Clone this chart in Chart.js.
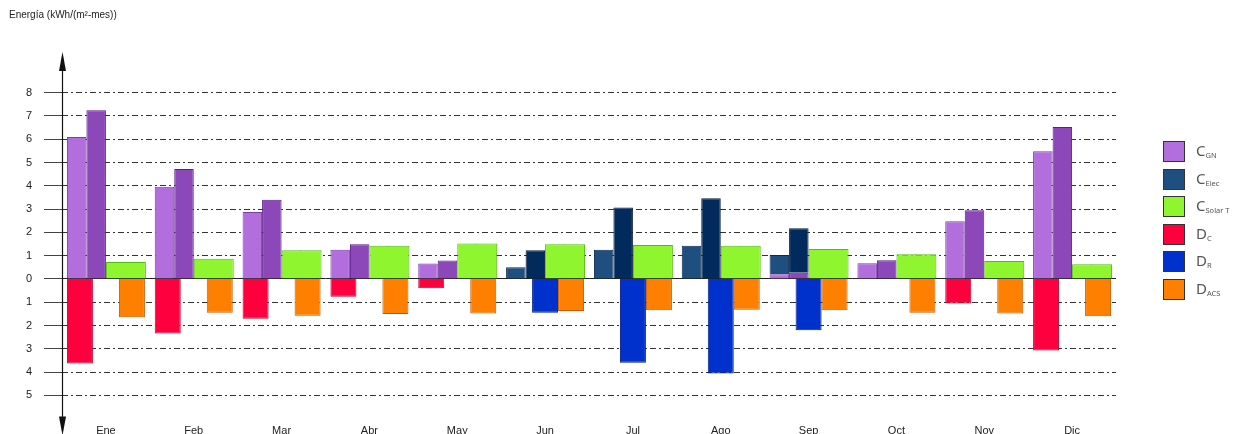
<!DOCTYPE html>
<html>
<head>
<meta charset="utf-8">
<script src="https://cdn.jsdelivr.net/npm/chart.js@4.4.0/dist/chart.umd.min.js"></script>
<style>
  html, body { margin: 0; padding: 0; background: #fff; overflow: hidden; }
  #wrap { position: relative; width: 1244px; height: 434px; }
  canvas { position: absolute; left: 0; top: 0; }
  #titulo { position: absolute; left: 9px; top: 9px; font: 10px "Liberation Sans", Arial, sans-serif; color: #222; }
  #leyenda { position: absolute; left: 1163px; top: 141px; font-family: "Noto Sans", sans-serif; color: #555; }
  .item { position: absolute; left: 0; height: 21px; white-space: nowrap; }
  .caja { position: absolute; left: 0; top: 0; width: 20px; height: 19px; border: 1px solid #333; }
  .txt { position: absolute; left: 33px; top: -1px; font-size: 15px; line-height: 21px; }
  .txt sub { font-size: 7.5px; vertical-align: -2px; }
</style>
</head>
<body>
<div id="wrap">
  <canvas id="consumo" width="1244" height="434"></canvas>
  <canvas id="demanda" width="1244" height="434"></canvas>
  <div id="titulo">Energía (kWh/(m²-mes))</div>
  <div id="leyenda"></div>
</div>
<script>
// meses
const meses = ["Ene", "Feb", "Mar", "Abr", "May", "Jun", "Jul", "Ago", "Sep", "Oct", "Nov", "Dic"];

// columna 1 (tonos claros)
const cGN    = [6.09, 3.96, 2.87, 1.25, 0.66, null, null, null, 0.20, 0.67, 2.48, 5.48];
const cElec  = [null, null, null, null, null, 0.50, 1.25, 1.42, 0.83, null, null, null];
// columna 2 (tonos oscuros)
const cGN2   = [7.24, 4.72, 3.40, 1.49, 0.79, null, null, null, 0.27, 0.80, 2.95, 6.52];
const cElec2 = [null, null, null, null, null, 1.23, 3.07, 3.47, 1.91, null, null, null];
// solar termica
const cSolarT = [0.73, 0.87, 1.23, 1.42, 1.52, 1.49, 1.46, 1.43, 1.28, 1.06, 0.77, 0.63];
// demandas (hacia abajo)
const dC   = [-3.63, -2.34, -1.71, -0.76, -0.40, null, null, null, null, null, -1.05, -3.07];
const dR   = [null, null, null, null, null, -1.45, -3.60, -4.06, -2.20, null, null, null];
const dACS = [-1.65, -1.45, -1.58, -1.51, -1.48, -1.38, -1.35, -1.32, -1.35, -1.45, -1.49, -1.60];

// eje y
const yTicks = [-5, -4, -3, -2, -1, 0, 1, 2, 3, 4, 5, 6, 7, 8];
const yMin = -5.5, yMax = 8.5;

// misma area de grafico en los dos canvas
const area = { left: 62, top: 81, right: 128, bottom: 27 };

// leyenda html (con subindices)
const leyenda = [
  ["C", "GN", "#b36ede"],
  ["C", "Elec", "#1f4f80"],
  ["C", "Solar T", "#8ff52f"],
  ["D", "C", "#ff003f"],
  ["D", "R", "#0031cc"],
  ["D", "ACS", "#ff8000"]
];
const divLey = document.getElementById("leyenda");
leyenda.forEach((l, i) => {
  const it = document.createElement("div");
  it.className = "item";
  it.style.top = (i * 27.5) + "px";
  it.innerHTML = '<div class="caja" style="background:' + l[2] + '"></div>' +
    '<div class="txt">' + l[0] + '<sub>' + l[1] + '</sub></div>';
  divLey.appendChild(it);
});

// eje vertical con flechas
const flechas = {
  id: "flechas",
  afterDraw(chart) {
    const ctx = chart.ctx;
    const y = chart.scales.y;
    const x = chart.chartArea.left + 0.5;
    const top = y.getPixelForValue(9.75);
    const bot = y.getPixelForValue(-6.72);
    ctx.save();
    ctx.strokeStyle = "#111";
    ctx.fillStyle = "#111";
    ctx.lineWidth = 1.2;
    ctx.beginPath();
    ctx.moveTo(x, top + 5);
    ctx.lineTo(x, bot - 5);
    ctx.stroke();
    ctx.beginPath();
    ctx.moveTo(x, top);
    ctx.lineTo(x - 3.5, top + 19);
    ctx.lineTo(x + 3.5, top + 19);
    ctx.closePath();
    ctx.fill();
    ctx.beginPath();
    ctx.moveTo(x, bot);
    ctx.lineTo(x - 3.5, bot - 19);
    ctx.lineTo(x + 3.5, bot - 19);
    ctx.closePath();
    ctx.fill();
    ctx.restore();
  }
};

// la barra verde ocupa dos huecos: dos mitades, la segunda algo mas ancha tapa la junta
const verde = { backgroundColor: "#8ff52f", borderColor: "#55bb10", borderSkipped: false };

// consumos (arriba) + ejes
new Chart(document.getElementById("consumo"), {
  type: "bar",
  data: {
    labels: meses,
    datasets: [
      { data: cGN, stack: "a", backgroundColor: "#b36ede", borderColor: "#7b3bab", borderWidth: 1 },
      { data: cElec, stack: "a", backgroundColor: "#1f4f80", borderColor: "#0d2b4f", borderWidth: 1 },
      { data: cGN2, stack: "b", backgroundColor: "#8c47b9", borderColor: "#5a1e8b", borderWidth: 1 },
      { data: cElec2, stack: "b", backgroundColor: "#012b5c", borderColor: "#0a1a38", borderWidth: 1 },
      { ...verde, data: cSolarT, stack: "g1", borderWidth: { top: 1, left: 1, bottom: 1, right: 0 } },
      { ...verde, data: cSolarT, stack: "g2", barPercentage: 1.1, borderWidth: { top: 1, left: 0, bottom: 1, right: 1 } }
    ]
  },
  options: {
    responsive: false,
    animation: false,
    categoryPercentage: 0.888,
    barPercentage: 1,
    layout: { padding: { top: area.top, right: area.right, left: 0, bottom: 0 } },
    plugins: { legend: { display: false }, tooltip: { enabled: false } },
    scales: {
      x: {
        stacked: true,
        grid: { display: false },
        border: { display: false },
        ticks: { color: "#222", font: { family: "Liberation Sans", size: 11 }, padding: 9, maxRotation: 0 },
        afterFit(s) { s.height = area.bottom; }
      },
      y: {
        min: yMin,
        max: yMax,
        stacked: true,
        afterBuildTicks(s) { s.ticks = yTicks.map(v => ({ value: v })); },
        afterFit(s) { s.width = area.left; },
        ticks: {
          color: "#222",
          padding: 12,
          font: { family: "Liberation Sans", size: 11 },
          callback: v => Math.abs(v)
        },
        grid: {
          color: c => c.tick && c.tick.value === 0 ? "#222" : "#333",
          lineWidth: 1,
          tickLength: 18,
          tickColor: "#444",
          tickBorderDash: []
        },
        border: {
          display: false,
          dash: c => c.tick && c.tick.value === 0 ? [] : [6, 3, 2, 3]
        }
      }
    }
  }
});

// demandas (abajo), canvas superpuesto
new Chart(document.getElementById("demanda"), {
  type: "bar",
  data: {
    labels: meses,
    datasets: [
      { data: dC, stack: "r", backgroundColor: "#ff003f", borderColor: "#c4002c", borderWidth: 1 },
      { data: dR, stack: "u", backgroundColor: "#0031cc", borderColor: "#001a8a", borderWidth: 1 },
      { data: dACS, stack: "o", backgroundColor: "#ff8000", borderColor: "#c85800", borderWidth: 1 }
    ]
  },
  options: {
    responsive: false,
    animation: false,
    categoryPercentage: 0.888,
    barPercentage: 1,
    layout: { padding: area },
    plugins: { legend: { display: false }, tooltip: { enabled: false } },
    scales: {
      x: { stacked: true, display: false },
      y: { min: yMin, max: yMax, stacked: true, display: false }
    }
  },
  plugins: [flechas]
});
</script>
</body>
</html>
